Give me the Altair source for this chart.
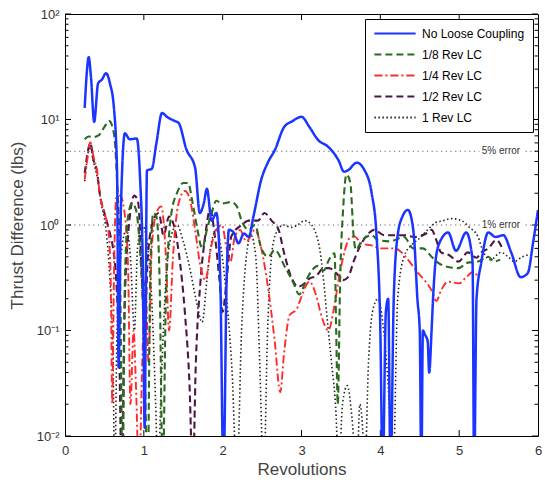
import altair as alt
import pandas as pd

SERIES = ["No Loose Coupling", "1/8 Rev LC", "1/4 Rev LC", "1/2 Rev LC", "1 Rev LC"]
COLORS = ["#1a35ff", "#2b6a1f", "#ff2b2b", "#4c1747", "#222222"]
DASHES = [[1, 0], [7, 4], [8, 3, 2, 3], [7, 4], [1.5, 2.5]]

BLUE = [(0.25, 12.9), (0.28, 30), (0.30, 39), (0.33, 25), (0.37, 9.5), (0.42, 22), (0.47, 24), (0.52, 27.5),
        (0.57, 22), (0.62, 13), (0.66, 3.3), (0.68, 0.045), (0.71, 1.5), (0.76, 7.4), (0.82, 6.5), (0.91, 6.6),
        (0.95, 3.0), (0.99, 0.3), (1.01, 0.012), (1.04, 3.3), (1.10, 3.4), (1.16, 6.0), (1.23, 11.5), (1.30, 10.5),
        (1.39, 9.7), (1.44, 9.3), (1.54, 5.2), (1.65, 3.5), (1.71, 1.3), (1.76, 1.6), (1.80, 2.2), (1.86, 1.1),
        (1.92, 1.3), (1.97, 0.3), (2.01, 0.004), (2.05, 0.3), (2.08, 0.9), (2.14, 0.85), (2.20, 0.67), (2.27, 0.83),
        (2.33, 0.77), (2.39, 1.2), (2.49, 2.7), (2.58, 4.0), (2.66, 5.1), (2.78, 8.5), (2.88, 9.6), (3.00, 10.6),
        (3.10, 8.5), (3.21, 6.4), (3.34, 5.5), (3.47, 4.1), (3.54, 3.2), (3.59, 3.3), (3.70, 3.9), (3.80, 3.3),
        (3.89, 2.0), (3.95, 0.83), (4.00, 0.1), (4.03, 0.004), (4.07, 0.15), (4.10, 0.2), (4.13, 0.004), (4.17, 0.2),
        (4.22, 0.8), (4.28, 1.2), (4.35, 1.39), (4.40, 1.1), (4.43, 0.72), (4.47, 0.2), (4.50, 0.1), (4.52, 0.004),
        (4.54, 0.1), (4.57, 0.09), (4.60, 0.08), (4.62, 0.04), (4.65, 0.1), (4.67, 0.21), (4.71, 0.52), (4.78, 0.75),
        (4.86, 0.85), (4.96, 0.57), (5.09, 0.85), (5.15, 0.6), (5.17, 0.44), (5.19, 0.004), (5.22, 0.2), (5.28, 0.44),
        (5.37, 0.85), (5.46, 0.77), (5.56, 0.8), (5.66, 0.55), (5.78, 0.32), (5.87, 0.35), (5.94, 0.7), (6.00, 1.39)]

GREEN = [(0.25, 6.5), (0.30, 6.9), (0.36, 6.8), (0.43, 7.1), (0.50, 8.5), (0.56, 9.7), (0.62, 7.4), (0.66, 2.7),
         (0.70, 0.3), (0.73, 0.004), (0.76, 0.3), (0.80, 1.2), (0.85, 1.6), (0.90, 1.4), (0.95, 0.6), (1.00, 0.1),
         (1.05, 0.004), (1.08, 0.3), (1.12, 1.3), (1.16, 1.2), (1.20, 0.3), (1.24, 0.004), (1.28, 0.2), (1.35, 1.3),
         (1.42, 2.0), (1.50, 2.5), (1.56, 2.5), (1.62, 1.6), (1.68, 0.9), (1.74, 0.6), (1.80, 0.9), (1.86, 1.3),
         (1.92, 1.7), (1.99, 1.6), (2.11, 1.65), (2.18, 1.5), (2.24, 1.1), (2.33, 0.9), (2.41, 1.0), (2.49, 0.6),
         (2.58, 0.5), (2.66, 0.58), (2.79, 0.4), (2.90, 0.28), (2.97, 0.22), (3.06, 0.3), (3.13, 0.37), (3.21, 0.41),
         (3.28, 0.37), (3.35, 0.47), (3.42, 0.54), (3.44, 0.1), (3.46, 0.02), (3.49, 0.3), (3.53, 1.5), (3.57, 3.0),
         (3.62, 2.5), (3.66, 0.8), (3.69, 0.58), (3.76, 0.7), (3.89, 0.8), (3.97, 0.72), (4.12, 0.7), (4.30, 0.77),
         (4.42, 0.6), (4.54, 0.6), (4.65, 0.5), (4.73, 0.44), (4.86, 0.4), (4.99, 0.39), (5.11, 0.44), (5.24, 0.45),
         (5.37, 0.5), (5.44, 0.45), (5.52, 0.47)]

RED = [(0.25, 2.7), (0.28, 4.0), (0.32, 6.1), (0.36, 4.5), (0.41, 3.1), (0.44, 2.0), (0.50, 1.3), (0.55, 0.9),
       (0.58, 0.3), (0.60, 0.02), (0.62, 0.3), (0.65, 1.8), (0.70, 1.9), (0.75, 1.4), (0.80, 0.4), (0.83, 0.02),
       (0.87, 0.1), (0.90, 0.03), (0.94, 0.004), (0.98, 0.05), (1.02, 0.3), (1.06, 0.05), (1.10, 0.6), (1.16, 1.3),
       (1.22, 1.5), (1.28, 0.5), (1.32, 0.1), (1.37, 0.5), (1.44, 1.6), (1.52, 2.1), (1.58, 1.8), (1.65, 0.9),
       (1.72, 0.4), (1.78, 0.3), (1.85, 0.6), (1.92, 0.9), (1.99, 1.0), (2.05, 0.6), (2.10, 0.45), (2.15, 0.75),
       (2.22, 0.9), (2.30, 0.7), (2.41, 0.9), (2.49, 0.6), (2.58, 0.24), (2.66, 0.08), (2.73, 0.026), (2.78, 0.062),
       (2.85, 0.14), (2.94, 0.16), (3.00, 0.21), (3.10, 0.29), (3.19, 0.21), (3.25, 0.14), (3.34, 0.1), (3.41, 0.16),
       (3.47, 0.3), (3.53, 0.5), (3.61, 0.75), (3.67, 0.78), (3.76, 0.67), (3.89, 0.64), (4.01, 0.6), (4.18, 0.6),
       (4.27, 0.55), (4.35, 0.47), (4.48, 0.35), (4.56, 0.3), (4.65, 0.24), (4.71, 0.19), (4.77, 0.24), (4.86, 0.29),
       (5.00, 0.28), (5.09, 0.32), (5.18, 0.36), (5.24, 0.32)]

PURPLE = [(0.25, 3.1), (0.28, 4.5), (0.32, 6.0), (0.36, 4.2), (0.41, 3.1), (0.44, 2.0), (0.50, 1.3), (0.57, 0.83),
          (0.61, 0.6), (0.65, 0.3), (0.69, 0.05), (0.72, 0.004), (0.75, 0.1), (0.80, 0.8), (0.88, 1.9), (0.93, 1.6),
          (0.97, 0.4), (1.01, 0.1), (1.05, 0.5), (1.12, 1.1), (1.19, 1.3), (1.25, 0.8), (1.32, 1.2), (1.38, 1.0),
          (1.45, 0.5), (1.52, 0.15), (1.58, 0.03), (1.62, 0.004), (1.66, 0.05), (1.72, 0.3), (1.78, 0.8), (1.84, 1.4),
          (1.90, 0.8), (1.96, 0.3), (2.00, 0.15), (2.05, 0.3), (2.11, 0.78), (2.24, 1.0), (2.33, 1.1), (2.45, 1.1),
          (2.53, 1.3), (2.62, 1.1), (2.71, 0.9), (2.78, 0.54), (2.87, 0.32), (2.96, 0.26), (3.04, 0.28), (3.10, 0.31),
          (3.19, 0.33), (3.28, 0.39), (3.35, 0.39), (3.44, 0.35), (3.53, 0.3), (3.59, 0.32), (3.67, 0.47), (3.73, 0.6),
          (3.85, 0.83), (3.92, 0.9), (4.05, 0.8), (4.30, 0.8), (4.43, 0.77), (4.58, 0.83), (4.65, 0.9), (4.71, 0.72),
          (4.77, 0.55), (4.87, 0.52), (4.99, 0.45), (5.11, 0.55), (5.22, 0.49), (5.28, 0.55), (5.37, 0.6), (5.47, 0.72),
          (5.56, 0.57)]

BLACK = [(0.25, 2.6), (0.28, 4.2), (0.32, 5.5), (0.36, 4.0), (0.41, 2.8), (0.46, 1.6), (0.52, 0.9), (0.57, 0.3),
         (0.61, 0.05), (0.63, 0.004), (0.66, 0.1), (0.72, 0.6), (0.78, 0.9), (0.83, 0.5), (0.88, 0.1), (0.92, 0.6),
         (0.98, 1.0), (1.04, 0.7), (1.10, 0.2), (1.15, 0.02), (1.18, 0.004), (1.22, 0.03), (1.28, 0.3), (1.35, 0.8),
         (1.42, 1.0), (1.50, 0.7), (1.58, 0.4), (1.66, 0.2), (1.74, 0.12), (1.80, 0.3), (1.86, 0.7), (1.92, 0.9),
         (1.98, 0.6), (2.05, 0.2), (2.12, 0.04), (2.18, 0.004), (2.24, 0.1), (2.30, 0.5), (2.36, 0.8), (2.42, 0.5),
         (2.47, 0.05), (2.52, 0.004), (2.57, 0.1), (2.63, 0.6), (2.70, 0.9), (2.77, 1.0), (2.87, 0.95), (2.95, 1.0),
         (3.04, 1.1), (3.13, 1.0), (3.19, 0.8), (3.23, 0.6), (3.28, 0.3), (3.33, 0.12), (3.38, 0.05), (3.44, 0.015),
         (3.47, 0.004), (3.52, 0.02), (3.58, 0.03), (3.64, 0.015), (3.70, 0.004), (3.74, 0.02), (3.78, 0.01),
         (3.80, 0.004), (3.85, 0.05), (3.90, 0.15), (3.97, 0.2), (4.03, 0.12), (4.10, 0.03), (4.16, 0.004),
         (4.22, 0.2), (4.30, 0.5), (4.40, 0.65), (4.50, 0.75), (4.60, 0.9), (4.70, 1.05), (4.80, 1.1), (4.90, 1.15),
         (5.03, 1.1), (5.13, 0.95), (5.24, 0.77), (5.30, 0.57), (5.40, 0.47), (5.53, 0.55), (5.62, 0.5), (5.70, 0.45),
         (5.80, 0.5), (5.87, 0.52)]

X_TICKS = [0, 1, 2, 3, 4, 5, 6]
Y_MAJOR = [0.01, 0.1, 1, 10, 100]
Y_MINOR = [m * d for d in (0.01, 0.1, 1, 10) for m in range(2, 10)]
ERR_LEVELS = [5, 1]
ERR_LABELS = ["5% error", "1% error"]
ERR_LABEL_X = 5.53

W, H = 473, 422
FONT = "Liberation Sans"

rows = []
for name, pts in zip(SERIES, [BLUE, GREEN, RED, PURPLE, BLACK]):
    for r, t in pts:
        rows.append({"series": name, "rev": r, "thrust": t})
df = pd.DataFrame(rows)

x_scale = alt.Scale(domain=[0, 6], nice=False, zero=False)
y_scale = alt.Scale(type="log", domain=[0.01, 100], nice=False)
x_axis = alt.Axis(values=X_TICKS, format="d", ticks=False, domain=False, grid=False, labelFlush=False,
                  labelPadding=8, title="Revolutions", titlePadding=4)
y_axis = alt.Axis(values=Y_MAJOR, ticks=False, domain=False, grid=False, labelFlush=False, labelPadding=6,
                  labelExpr="datum.value >= 50 ? '10²' : datum.value >= 5 ? '10¹' : datum.value >= 0.5 ? '10⁰' : datum.value >= 0.05 ? '10⁻¹' : '10⁻²'",
                  title="Thrust Difference (lbs)", titlePadding=10)
X = alt.X("rev:Q", scale=x_scale, axis=x_axis)
Y = alt.Y("thrust:Q", scale=y_scale, axis=y_axis)

legend = alt.Legend(title=None, orient="top-right", symbolType="stroke", symbolSize=1700, symbolStrokeWidth=2,
                    labelFont=FONT, labelFontSize=12, labelColor="black", strokeColor="black", fillColor="white",
                    padding=8, rowPadding=8, offset=5, labelOffset=5, cornerRadius=0, clipHeight=13)
color = alt.Color("series:N", scale=alt.Scale(domain=SERIES, range=COLORS), legend=legend)
dash = alt.StrokeDash("series:N", scale=alt.Scale(domain=SERIES, range=DASHES), legend=legend)

# error reference lines and labels
err_df = pd.DataFrame({"thrust": ERR_LEVELS, "label": ERR_LABELS, "rev": [ERR_LABEL_X] * len(ERR_LEVELS)})
err_rules = alt.Chart(err_df).mark_rule(color="#666", strokeDash=[1.2, 3.5], strokeWidth=1.2).encode(
    y=Y, x=alt.value(0), x2=alt.value(W))
err_halo = alt.Chart(err_df).mark_text(font=FONT, fontSize=10, stroke="white", strokeWidth=5, fill="white").encode(
    x=X, y=Y, text="label:N")
err_text = alt.Chart(err_df).mark_text(font=FONT, fontSize=10, color="#333").encode(x=X, y=Y, text="label:N")

# inward ticks (MATLAB-style box)
ymaj = pd.DataFrame({"thrust": Y_MAJOR})
ymin = pd.DataFrame({"thrust": Y_MINOR})
xt = pd.DataFrame({"rev": X_TICKS[1:-1]})
tick_layers = [
    alt.Chart(ymaj).mark_rule(color="black").encode(y=Y, x=alt.value(0), x2=alt.value(6)),
    alt.Chart(ymaj).mark_rule(color="black").encode(y=Y, x=alt.value(W), x2=alt.value(W - 6)),
    alt.Chart(ymin).mark_rule(color="black").encode(y=Y, x=alt.value(0), x2=alt.value(3.5)),
    alt.Chart(ymin).mark_rule(color="black").encode(y=Y, x=alt.value(W), x2=alt.value(W - 3.5)),
    alt.Chart(xt).mark_rule(color="black").encode(x=X, y=alt.value(H), y2=alt.value(H - 6)),
    alt.Chart(xt).mark_rule(color="black").encode(x=X, y=alt.value(0), y2=alt.value(6)),
]

widths = {"No Loose Coupling": 2.5, "1/8 Rev LC": 2.1, "1/4 Rev LC": 1.9, "1/2 Rev LC": 2.1, "1 Rev LC": 1.6}
line_layers = []
for name in ["1 Rev LC", "1/2 Rev LC", "1/4 Rev LC", "1/8 Rev LC", "No Loose Coupling"]:
    line_layers.append(
        alt.Chart(df).transform_filter(alt.datum.series == name)
        .mark_line(clip=True, strokeWidth=widths[name], interpolate="monotone")
        .encode(x=X, y=Y, color=color, strokeDash=dash)
    )

chart = alt.layer(err_rules, err_halo, err_text, *tick_layers, *line_layers).properties(
    width=W, height=H, autosize=alt.AutoSizeParams(type="none"),
    padding={"left": 65, "top": 14, "right": 7, "bottom": 48}, background="white"
).configure_view(stroke="black", strokeWidth=1).configure_axis(
    labelFont=FONT, labelFontSize=13, labelColor="#333", titleFont=FONT, titleFontSize=17,
    titleColor="#444", titleFontWeight="normal"
)

chart.save("out.html", embed_options={"renderer": "svg", "actions": False})
